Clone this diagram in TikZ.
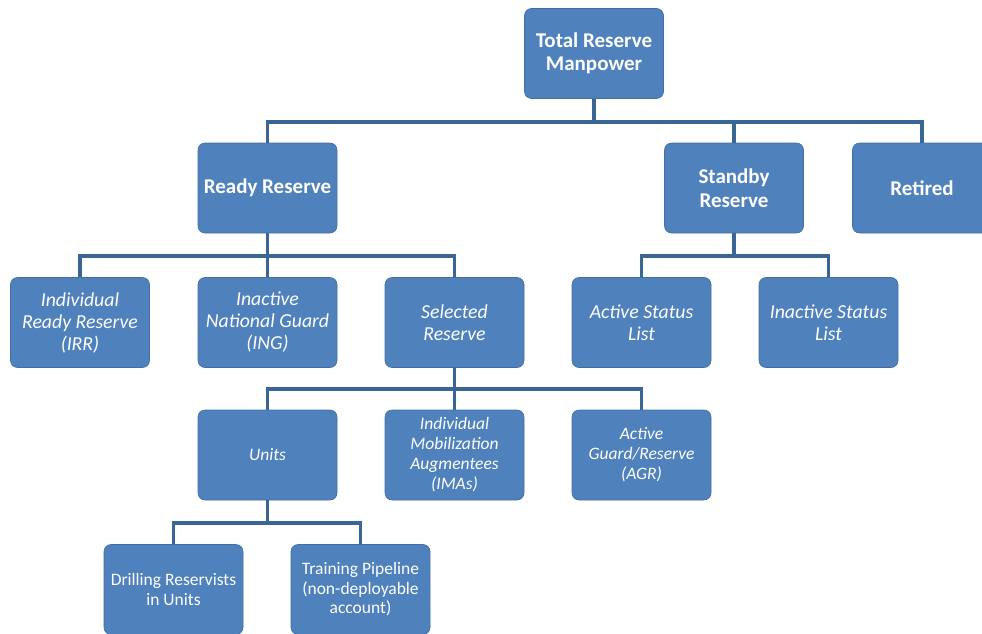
\documentclass[tikz,border=0pt]{standalone}
\usepackage{fontspec}
\setmainfont{Carlito}
\definecolor{boxblue}{RGB}{79,129,189}
\definecolor{lineblue}{RGB}{58,102,150}
\tikzset{
  box/.style={draw=boxblue!85!black, fill=boxblue, rounded corners=7pt,
    minimum width=139pt, minimum height=90pt, text=white, align=center,
    inner sep=2pt, line width=0.6pt},
  headbox/.style={box, font=\fontsize{21}{23.5}\selectfont\bfseries},
  subbox/.style={box, font=\fontsize{19.8}{22}\selectfont\itshape},
  smallbox/.style={box, font=\fontsize{17.5}{20}\selectfont\itshape},
  plainbox/.style={box, font=\fontsize{17.5}{19.5}\selectfont},
  link/.style={draw=lineblue, line width=3.5pt}
}
\begin{document}
\begin{tikzpicture}[x=1pt,y=-1pt]
  \useasboundingbox (0,0) rectangle (982,634);
  % top
  \node[headbox] (total) at (594,53.5) {Total Reserve\\Manpower};
  \node[headbox] (ready) at (267.5,188) {Ready Reserve};
  \node[headbox] (standby) at (734,188) {Standby\\Reserve};
  \node[headbox] (retired) at (922,188) {Retired};
  % second row
  \node[subbox] (irr) at (80,322.5) {Individual\\Ready Reserve\\(IRR)};
  \node[subbox] (ing) at (267.5,322.5) {Inactive\\National Guard\\(ING)};
  \node[subbox] (selected) at (454.5,322.5) {Selected\\Reserve};
  \node[subbox] (activelist) at (641.5,322.5) {Active Status\\List};
  \node[subbox] (inactivelist) at (828.5,322.5) {Inactive Status\\List};
  % selected reserve
  \node[smallbox] (units) at (267.5,455) {Units};
  \node[smallbox] (imas) at (454.5,455) {Individual\\Mobilization\\Augmentees\\(IMAs)};
  \node[smallbox] (agr) at (641.5,455) {Active\\Guard/Reserve\\(AGR)};
  % units
  \node[plainbox] (drilling) at (173.5,589.5) {Drilling Reservists\\in Units};
  \node[plainbox] (training) at (360.5,589.5) {Training Pipeline\\(non-deployable\\account)};

  \coordinate (bartotal) at (594,122);
  \coordinate (barready) at (267.5,256);
  \coordinate (barstandby) at (734,256);
  \coordinate (barselected) at (454.5,389);
  \coordinate (barunits) at (267.5,523);

  \draw[link] (total) -- (bartotal);
  \draw[link] (bartotal) -| (ready);
  \draw[link] (bartotal) -| (standby);
  \draw[link] (bartotal) -| (retired);
  \draw[link] (ready) -- (barready);
  \draw[link] (barready) -| (irr);
  \draw[link] (barready) -| (ing);
  \draw[link] (barready) -| (selected);
  \draw[link] (standby) -- (barstandby);
  \draw[link] (barstandby) -| (activelist);
  \draw[link] (barstandby) -| (inactivelist);
  \draw[link] (selected) -- (barselected);
  \draw[link] (barselected) -| (units);
  \draw[link] (barselected) -| (imas);
  \draw[link] (barselected) -| (agr);
  \draw[link] (units) -- (barunits);
  \draw[link] (barunits) -| (drilling);
  \draw[link] (barunits) -| (training);
\end{tikzpicture}
\end{document}
